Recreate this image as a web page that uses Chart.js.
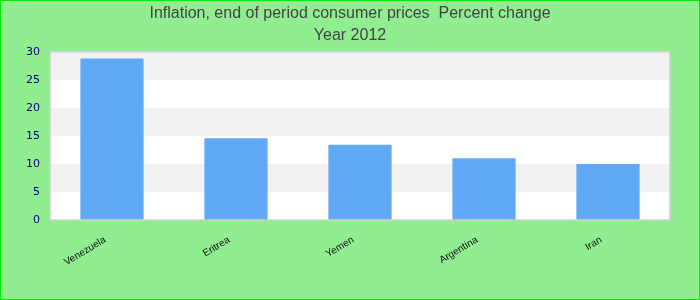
<!DOCTYPE html>
<html>
<head>
<meta charset="utf-8">
<script src="https://cdn.jsdelivr.net/npm/chart.js@4/dist/chart.umd.min.js"></script>
<style>
html,body{margin:0;padding:0;background:#90EE90;}
#wrap{width:700px;height:300px;position:relative;}
</style>
</head>
<body>
<div id="wrap"><canvas id="c" width="700" height="300"></canvas></div>
<script>
const categories = ['Venezuela', 'Eritrea', 'Yemen', 'Argentina', 'Iran'];
const values = [28.8, 14.6, 13.4, 11.0, 10.0];
const yTicks = [0, 5, 10, 15, 20, 25, 30];
const titleLines = ['Inflation, end of period consumer prices  Percent change', 'Year 2012'];

const bgPlugin = {
  id: 'bg',
  beforeDraw(chart) {
    const ctx = chart.ctx, a = chart.chartArea, y = chart.scales.y;
    ctx.save();
    ctx.fillStyle = '#90EE90';
    ctx.fillRect(0, 0, chart.width, chart.height);
    ctx.fillStyle = '#ffffff';
    ctx.fillRect(a.left, a.top, a.right - a.left, a.bottom - a.top);
    ctx.fillStyle = '#f2f2f2';
    for (let i = 0; i < yTicks.length - 1; i++) {
      if (i % 2 === 1) {
        const t = y.getPixelForValue(yTicks[i + 1]);
        const b = y.getPixelForValue(yTicks[i]);
        ctx.fillRect(a.left, t, a.right - a.left, b - t);
      }
    }
    ctx.restore();
  },
  afterDraw(chart) {
    const ctx = chart.ctx, a = chart.chartArea;
    ctx.save();
    ctx.strokeStyle = '#d0d0d0';
    ctx.lineWidth = 1.5;
    ctx.strokeRect(a.left, a.top, a.right - a.left, a.bottom - a.top);
    ctx.strokeStyle = '#00ee00';
    ctx.lineWidth = 1;
    ctx.strokeRect(0.5, 0.5, chart.width - 1, chart.height - 1);
    ctx.restore();
  }
};

new Chart(document.getElementById('c'), {
  type: 'bar',
  data: {
    labels: categories,
    datasets: [{
      data: values,
      backgroundColor: '#61a9f5',
      borderWidth: 0,
      barPercentage: 0.51,
      categoryPercentage: 1.0
    }]
  },
  options: {
    responsive: false,
    animation: false,
    devicePixelRatio: 1,
    layout: { padding: 0 },
    plugins: {
      legend: { display: false },
      tooltip: { enabled: false },
      title: {
        display: true,
        text: titleLines,
        color: '#444444',
        font: { family: 'Liberation Sans, Arial, sans-serif', size: 16, weight: 'normal', lineHeight: 1.4 },
        padding: { top: 2, bottom: 5 }
      }
    },
    scales: {
      x: {
        grid: { display: false, drawTicks: false },
        border: { display: false },
        ticks: {
          color: '#111111',
          font: { family: 'Liberation Sans, Arial, sans-serif', size: 10 },
          maxRotation: 31,
          minRotation: 31,
          padding: 14,
          labelOffset: -7
        },
        afterFit(s) { s.height = 80; }
      },
      y: {
        min: 0,
        max: 30,
        grid: { display: false, drawTicks: false },
        border: { display: false },
        afterBuildTicks(s) { s.ticks = yTicks.map(v => ({ value: v })); },
        ticks: {
          color: '#00008b',
          font: { family: 'DejaVu Sans, sans-serif', size: 11 },
          padding: 10
        },
        afterFit(s) { s.width = 50; }
      },
      yRight: {
        position: 'right',
        display: true,
        min: 0,
        max: 30,
        grid: { display: false, drawTicks: false },
        border: { display: false },
        ticks: { display: false },
        afterFit(s) { s.width = 30; }
      }
    }
  },
  plugins: [bgPlugin]
});
</script>
</body>
</html>
